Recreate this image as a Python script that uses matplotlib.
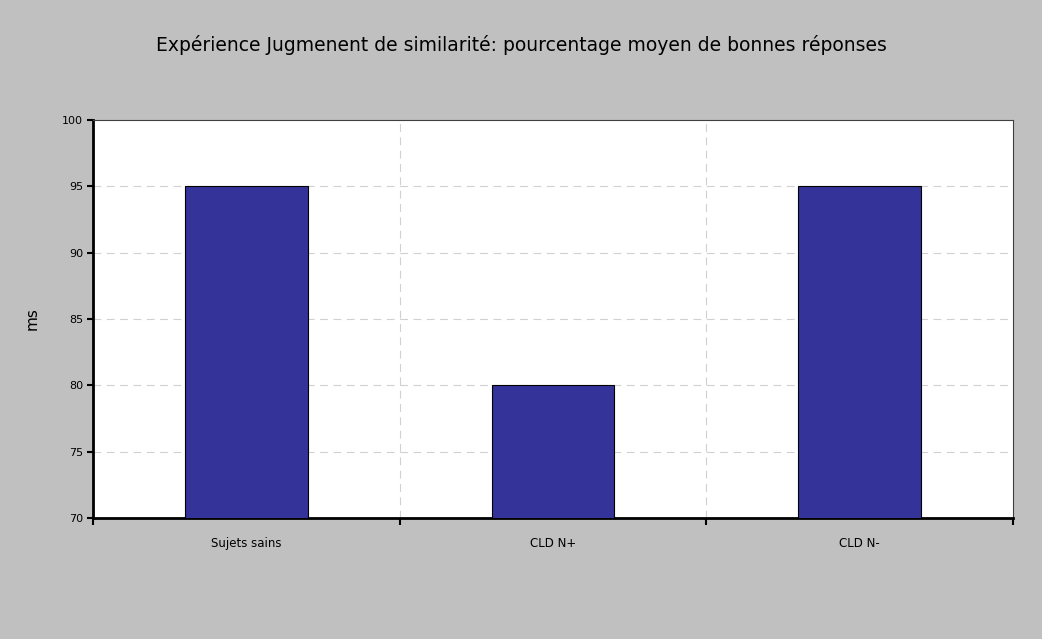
import matplotlib
matplotlib.use("Agg")
import matplotlib.pyplot as plt
import numpy as np

categories = ["Sujets sains", "CLD N+", "CLD N-"]
values = [95, 80, 95]
yticks = [70, 75, 80, 85, 90, 95, 100]

fig = plt.figure(figsize=(10.42, 6.39), dpi=100, facecolor="#C0C0C0")
ax = fig.add_axes([93/1042, 1-518/639, 920/1042, 398/639])
ax.set_facecolor("white")

x = np.arange(len(categories))
ax.bar(x, values, width=0.4, color="#333399", edgecolor="black", linewidth=0.8, zorder=3)

ax.set_xlim(-0.5, len(categories) - 0.5)
ax.set_ylim(70, 100)
ax.set_yticks(yticks)
ax.set_yticklabels([str(v) for v in yticks], fontsize=8)

bounds = np.arange(-0.5, len(categories), 1.0)
ax.set_xticks(bounds)
ax.set_xticklabels([])
ax.set_xticks(x, minor=True)
ax.set_xticklabels(categories, minor=True, fontsize=8.5)
ax.tick_params(axis="x", which="minor", length=0, pad=14)
ax.tick_params(axis="x", which="major", direction="out", length=5, width=1.5, color="black")
ax.tick_params(axis="y", direction="out", length=4, width=1.5, color="black", pad=3)

for v in yticks[1:-1]:
    ax.axhline(v, color="#D0D0D0", linestyle=(0, (7, 5)), linewidth=0.8, zorder=1)
for b in bounds[1:-1]:
    ax.axvline(b, color="#D0D0D0", linestyle=(0, (7, 5)), linewidth=0.8, zorder=1)

ax.spines["left"].set_linewidth(2)
ax.spines["bottom"].set_linewidth(2)
ax.spines["top"].set_linewidth(0.8)
ax.spines["right"].set_linewidth(0.8)
ax.spines["top"].set_color("#404040")
ax.spines["right"].set_color("#404040")

ax.set_ylabel("ms", fontsize=11)
ax.yaxis.set_label_coords((40 - 93) / 920, 0.5)

fig.text(0.5, 1 - 45/639, "Expérience Jugmenent de similarité: pourcentage moyen de bonnes réponses",
         ha="center", va="center", fontsize=13.5)

fig.savefig("out.png", dpi=100, facecolor=fig.get_facecolor())
